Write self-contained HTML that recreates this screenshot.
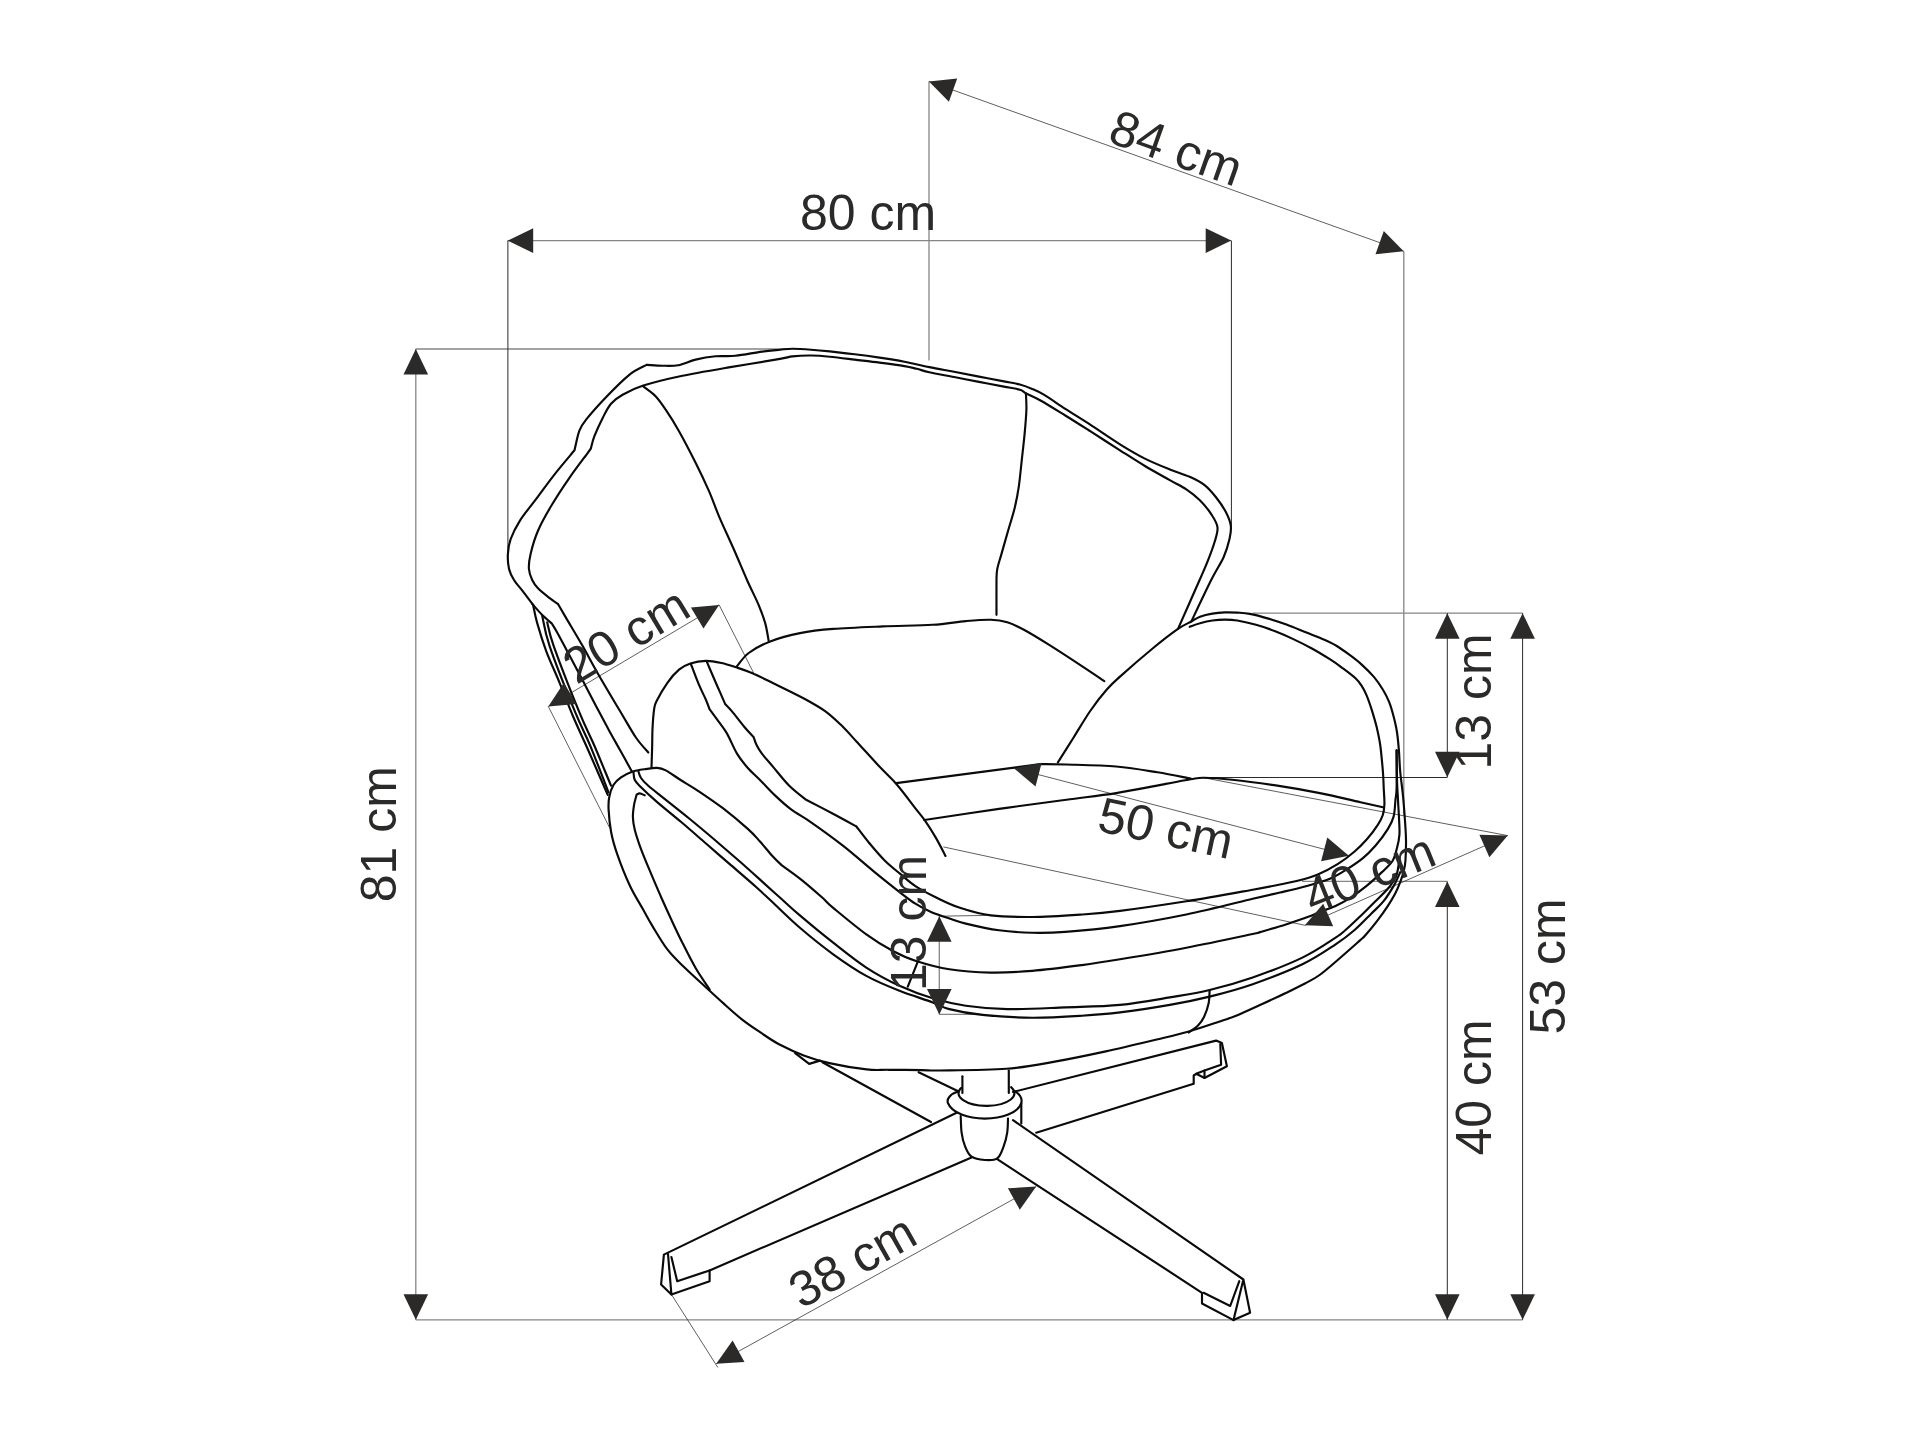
<!DOCTYPE html>
<html lang="en"><head><meta charset="utf-8"><title>Armchair dimensions</title>
<style>html,body{margin:0;padding:0;background:#fff}body{width:1930px;height:1447px;overflow:hidden}svg{display:block}</style>
</head><body>
<svg width="1930" height="1447" viewBox="0 0 1930 1447">
<rect width="1930" height="1447" fill="#fff"/>
<g fill="none" stroke="#858585" stroke-width="1.3">
<path d="M929.0,81.5 L929.0,360.5"/>
<path d="M1403.8,251.2 L1403.8,815.0"/>
<path d="M507.7,240.6 L1231.2,240.6"/>
<path d="M415.8,349.0 L415.8,1319.8"/>
<path d="M415.8,349.0 L788.0,349.0"/>
<path d="M415.8,1319.8 L1522.6,1319.8"/>
<path d="M939.3,916.2 L939.3,1014.4"/>
<path d="M939.3,1014.4 L982.4,1014.4"/>
<path d="M1252.7,613.2 L1522.6,613.2"/>
<path d="M1302.0,881.3 L1447.3,881.3"/>
</g>
<g fill="none" stroke="#2a2a2a" stroke-width="1.0">
<path d="M507.9,240.6 L507.9,554.0"/>
<path d="M1231.4,240.6 L1231.4,525.7"/>
<path d="M1447.3,613.2 L1447.3,777.3"/>
<path d="M1202.9,777.5 L1447.3,777.5"/>
<path d="M1447.3,881.5 L1447.3,1319.8"/>
<path d="M1522.6,613.2 L1522.6,1319.8"/>
</g>
<g fill="none" stroke="#2a2a2a" stroke-width="0.75">
<path d="M929.0,81.5 L1403.7,251.2"/>
<path d="M548.3,706.4 L719.1,604.9"/>
<path d="M548.3,706.4 L609.9,828.3"/>
<path d="M719.1,604.9 L753.6,672.9"/>
<path d="M939.3,916.2 L987.4,915.4"/>
<path d="M1013.9,768.2 L1348.9,855.7"/>
<path d="M1304.9,925.3 L1507.7,835.6"/>
<path d="M943.4,846.9 L1304.9,925.3"/>
<path d="M1204.0,777.8 L1507.7,835.6"/>
<path d="M716.2,1363.7 L1036.2,1186.6"/>
<path d="M671.4,1294.4 L717.8,1367.4"/>
</g>
<g fill="none" stroke="#0a0a0a" stroke-width="2.15" stroke-linecap="round" stroke-linejoin="round">
<path d="M607.7,794.8 C606.3,791.6 602.7,783.3 599.4,775.7 C596.1,768.1 592.2,759.2 587.8,749.2 C583.4,739.2 577.6,727.1 572.9,716.0 C568.2,704.9 564.0,693.6 559.6,682.8 C555.2,672.0 550.0,661.2 546.3,651.3 C542.6,641.3 539.4,630.8 537.2,623.1 C535.0,615.4 533.8,607.9 533.1,604.9 M533.1,604.9 C531.4,602.7 526.3,595.8 523.1,591.6 C519.9,587.5 516.4,583.8 514.0,580.0 C511.6,576.2 510.0,573.1 509.0,568.8 C508.0,564.4 507.6,558.9 507.9,553.9 C508.2,548.9 508.7,544.5 510.7,539.0 C512.7,533.5 515.8,527.1 519.8,520.8 C523.8,514.4 528.9,508.6 534.7,500.9 C540.5,493.1 548.0,482.7 554.6,474.3 C561.2,465.9 571.2,454.3 574.5,450.3 M574.5,450.3 C574.8,449.1 575.4,446.1 576.2,442.8 C577.0,439.5 577.9,434.3 579.5,430.4 C581.1,426.5 581.7,425.1 586.1,419.6 C590.5,414.1 598.8,404.7 606.0,397.2 C613.2,389.7 622.5,380.2 629.3,374.8 C636.1,369.4 643.8,366.5 646.7,364.9 M646.7,364.9 C649.3,365.0 657.1,365.6 662.4,365.7 C667.6,365.8 672.7,366.2 678.2,365.2 C683.7,364.2 689.4,361.1 695.6,359.6 C701.8,358.1 708.9,356.9 715.5,356.3 C722.1,355.7 727.7,356.6 735.4,355.8 C743.1,355.0 754.5,352.6 761.9,351.6 C769.3,350.6 774.9,350.2 780.0,349.7 C785.1,349.2 787.2,348.7 792.4,348.7 C797.6,348.7 804.9,349.2 811.1,349.7 C817.3,350.1 822.5,350.6 829.8,351.4 C837.0,352.2 846.3,353.3 854.6,354.3 C862.9,355.3 871.2,356.4 879.5,357.6 C887.8,358.8 896.1,360.1 904.4,361.7 C912.7,363.3 921.0,365.4 929.3,367.1 C937.6,368.8 945.8,370.2 954.1,371.8 C962.4,373.4 970.7,375.0 979.0,376.6 C987.3,378.2 997.1,380.1 1003.9,381.4 C1010.7,382.7 1015.2,383.2 1019.9,384.5 C1024.6,385.8 1028.2,387.2 1032.2,388.9 C1036.2,390.6 1038.3,391.4 1043.8,394.7 C1049.3,398.0 1057.6,403.8 1065.3,408.8 C1073.0,413.8 1081.1,418.7 1090.2,424.6 C1099.3,430.5 1110.9,438.6 1120.0,444.3 C1129.1,450.0 1136.6,454.4 1144.9,458.6 C1153.2,462.8 1162.3,466.4 1169.8,469.4 C1177.3,472.4 1183.9,474.2 1189.7,476.8 C1195.5,479.4 1200.2,481.7 1204.6,485.1 C1209.0,488.6 1212.6,492.9 1216.2,497.5 C1219.8,502.1 1223.7,507.8 1226.1,512.5 C1228.5,517.2 1230.2,521.3 1230.8,525.7 C1231.4,530.1 1230.7,533.8 1229.5,539.0 C1228.3,544.2 1226.6,550.4 1223.6,557.2 C1220.5,564.0 1216.6,569.3 1211.2,580.0 C1205.8,590.7 1194.6,614.6 1191.3,621.5"/>
<path d="M558.0,604.0 C556.6,603.0 553.0,600.8 549.7,598.2 C546.4,595.6 540.9,591.3 538.0,588.3 C535.1,585.3 533.7,583.2 532.2,580.0 C530.7,576.8 529.2,573.1 528.9,568.8 C528.6,564.4 529.1,560.2 530.6,553.9 C532.1,547.5 534.5,538.7 538.0,530.7 C541.5,522.7 546.0,514.6 551.3,505.8 C556.6,496.9 563.5,486.4 569.6,477.6 C575.7,468.8 584.3,457.6 587.8,452.8 C591.3,448.0 590.3,449.3 590.8,448.6 M590.8,448.6 C591.4,446.5 592.4,441.3 594.4,436.2 C596.4,431.1 599.9,423.3 602.7,417.9 C605.5,412.5 607.7,407.7 611.0,403.8 C614.3,399.9 617.2,397.7 622.6,394.7 C628.0,391.7 633.9,388.6 643.3,385.6 C652.7,382.6 664.8,379.5 679.0,376.5 C693.2,373.5 712.0,370.3 728.8,367.4 C745.6,364.5 769.4,360.7 780.0,358.9 C790.6,357.1 787.2,357.0 792.4,356.4 C797.6,355.8 804.9,355.4 811.1,355.5 C817.3,355.6 822.5,356.0 829.8,356.7 C837.0,357.4 846.3,358.6 854.6,359.6 C862.9,360.6 871.2,361.5 879.5,362.6 C887.8,363.7 898.2,365.1 904.4,366.1 C910.6,367.1 912.6,367.8 916.8,368.8 C920.9,369.8 923.1,370.9 929.3,372.3 C935.5,373.7 945.8,375.4 954.1,377.0 C962.4,378.6 970.7,380.3 979.0,381.9 C987.3,383.5 997.1,385.3 1003.9,386.6 C1010.7,387.9 1016.3,388.6 1019.9,389.7 C1023.5,390.8 1022.1,391.3 1025.5,393.1 C1028.9,394.9 1033.9,396.8 1040.5,400.5 C1047.1,404.2 1057.0,410.4 1065.3,415.5 C1073.6,420.6 1081.1,425.4 1090.2,431.2 C1099.3,437.0 1110.9,444.5 1120.0,450.3 C1129.1,456.1 1136.6,461.0 1144.9,466.0 C1153.2,471.0 1162.9,476.2 1169.8,480.1 C1176.7,484.0 1181.3,486.0 1186.3,489.3 C1191.3,492.6 1195.4,495.9 1199.6,500.0 C1203.8,504.1 1208.2,509.5 1211.2,514.1 C1214.2,518.7 1217.0,522.7 1217.5,527.4 C1218.0,532.1 1216.1,536.8 1214.5,542.3 C1212.9,547.8 1210.4,554.3 1207.9,560.6 C1205.4,566.9 1204.6,568.6 1199.6,580.0 C1194.6,591.4 1181.6,620.8 1178.0,628.9"/>
<path d="M1057.9,762.4 C1060.5,758.2 1068.2,746.1 1073.6,737.5 C1079.0,728.9 1084.7,719.0 1090.2,711.0 C1095.7,703.0 1101.8,695.2 1106.8,689.5 C1111.8,683.8 1112.3,683.5 1120.0,676.6 C1127.7,669.7 1143.5,656.0 1153.2,648.0 C1162.9,640.0 1171.7,633.3 1178.0,628.9 C1184.3,624.5 1187.6,623.5 1191.3,621.5 C1195.0,619.5 1196.5,618.0 1200.0,616.7 C1203.5,615.4 1208.2,614.3 1212.4,613.6 C1216.6,612.9 1220.8,612.6 1224.9,612.4 C1229.1,612.2 1233.2,612.4 1237.3,612.6 C1241.4,612.9 1244.6,612.9 1249.8,613.9 C1255.0,614.9 1262.2,616.8 1268.4,618.6 C1274.6,620.4 1280.9,622.5 1287.1,624.8 C1293.3,627.1 1299.5,629.8 1305.7,632.3 C1311.9,634.8 1319.2,637.5 1324.4,639.8 C1329.6,642.1 1332.7,643.5 1336.8,646.0 C1340.9,648.5 1345.1,651.6 1349.3,654.7 C1353.5,657.8 1357.6,660.9 1361.7,664.6 C1365.8,668.3 1370.6,673.0 1374.1,677.1 C1377.6,681.2 1380.3,685.4 1382.8,689.5 C1385.3,693.6 1387.2,697.1 1389.1,701.9 C1391.0,706.7 1392.7,712.9 1394.0,718.1 C1395.3,723.3 1396.3,727.4 1397.1,733.0 C1397.9,738.6 1398.5,745.3 1399.0,751.7 C1399.5,758.1 1399.5,764.1 1400.2,771.5 C1400.9,778.9 1402.2,787.8 1403.0,796.0 C1403.8,804.2 1404.5,813.7 1405.0,821.0 C1405.5,828.3 1405.9,833.5 1406.0,840.0 C1406.1,846.5 1405.8,854.9 1405.5,860.0 C1405.2,865.1 1404.8,866.8 1403.9,870.4 C1403.0,874.0 1401.8,877.9 1400.3,881.8 C1398.8,885.7 1397.2,889.6 1395.1,893.7 C1392.9,897.8 1390.4,902.0 1387.4,906.6 C1384.4,911.2 1380.6,916.4 1377.0,921.1 C1373.4,925.8 1368.4,931.8 1365.6,935.0 C1362.8,938.2 1364.3,936.6 1360.0,940.4 C1355.7,944.2 1346.7,952.2 1340.0,958.0 C1333.3,963.8 1325.4,970.8 1319.6,975.0 C1313.8,979.2 1310.6,980.5 1305.0,983.5 C1299.4,986.5 1293.3,989.4 1285.8,993.0 C1278.3,996.6 1268.2,1001.2 1259.9,1005.0 C1251.6,1008.8 1242.4,1013.1 1236.1,1015.7 C1229.8,1018.3 1229.8,1018.1 1221.9,1020.7 C1214.0,1023.3 1199.8,1028.3 1188.8,1031.5 C1177.8,1034.7 1169.4,1036.5 1155.6,1039.8 C1141.8,1043.1 1122.4,1047.8 1105.8,1051.4 C1089.2,1055.0 1072.7,1058.5 1056.1,1061.4 C1039.5,1064.3 1025.6,1067.3 1006.3,1068.8 C986.9,1070.3 954.1,1070.3 940.0,1070.5 C925.9,1070.7 930.4,1070.2 921.9,1070.1 C913.4,1070.0 898.0,1069.9 888.8,1069.8 C879.6,1069.7 876.5,1070.5 866.6,1069.4 C856.7,1068.3 839.7,1065.4 829.3,1063.1 C818.9,1060.8 812.7,1058.8 804.4,1055.7 C796.1,1052.6 786.8,1048.3 779.5,1044.5 C772.2,1040.7 767.0,1036.9 760.8,1032.7 C754.6,1028.5 748.4,1024.5 742.2,1019.6 C736.0,1014.7 729.1,1008.4 723.5,1003.4 C717.9,998.4 715.2,995.9 708.6,989.8 C702.0,983.7 690.9,973.7 684.0,967.0 C677.1,960.3 672.6,956.2 667.4,949.4 C662.1,942.6 656.5,932.7 652.5,926.1 C648.5,919.5 647.2,916.8 643.4,910.0 C639.6,903.2 634.1,894.8 629.8,885.5 C625.4,876.2 620.4,863.3 617.3,854.4 C614.2,845.5 612.5,839.5 611.1,832.0 C609.7,824.5 608.9,815.4 608.6,809.6 C608.3,803.8 608.4,801.4 609.2,797.2 C610.0,793.1 611.6,788.0 613.6,784.7 C615.6,781.4 617.9,779.5 621.0,777.3 C624.1,775.1 628.2,773.1 632.2,771.7 C636.2,770.4 640.6,769.8 644.7,769.2 C648.9,768.6 653.6,767.7 657.1,767.9 C660.6,768.1 661.9,768.4 665.8,770.4 C669.7,772.4 675.2,776.6 680.6,780.0 C686.0,783.4 691.0,786.1 698.0,790.8 C705.0,795.5 714.6,801.9 722.9,808.2 C731.2,814.6 741.6,823.4 747.8,828.9 C754.0,834.4 755.9,837.0 760.0,841.5 C764.1,846.0 768.8,852.0 772.4,856.0 C776.0,860.0 780.2,863.8 781.8,865.3 M781.8,865.3 C785.1,867.7 794.8,874.4 801.5,879.8 C808.2,885.2 816.9,892.8 822.2,897.5 C827.5,902.2 825.9,901.8 833.2,907.9 C840.6,914.0 856.3,927.2 866.3,934.4 C876.2,941.6 884.6,946.6 892.9,951.0 C901.2,955.4 906.7,958.0 916.1,961.0 C925.5,964.0 936.9,967.4 949.3,969.3 C961.7,971.2 976.9,972.3 990.7,972.6 C1004.5,972.9 1017.0,972.1 1032.2,970.9 C1047.4,969.6 1067.3,967.0 1081.9,965.1 C1096.5,963.2 1102.6,962.2 1120.0,959.3 C1137.4,956.4 1164.2,951.9 1186.3,947.7 C1208.4,943.5 1240.4,936.6 1252.7,934.0 C1265.0,931.4 1254.5,933.7 1260.0,932.1 C1265.5,930.5 1277.3,927.2 1285.9,924.4 C1294.5,921.6 1306.1,917.6 1311.8,915.5 C1317.5,913.4 1316.0,913.4 1320.0,911.8 C1324.0,910.2 1330.3,908.4 1335.5,906.0 C1340.7,903.6 1345.9,900.6 1351.1,897.3 C1356.3,893.9 1361.4,890.1 1366.6,885.9 C1371.8,881.7 1377.9,876.0 1382.2,871.9 C1386.5,867.8 1390.0,865.0 1392.5,861.0 C1395.0,857.0 1395.8,852.4 1397.0,848.0 C1398.2,843.6 1399.1,839.6 1399.4,834.9 C1399.8,830.2 1399.3,825.8 1399.1,820.0 C1398.9,814.2 1398.3,806.7 1398.0,800.0 C1397.7,793.3 1397.2,788.3 1397.0,780.0 C1396.8,771.7 1396.7,755.2 1396.6,750.3"/>
<path d="M643.3,386.4 C645.4,388.1 652.1,392.5 655.8,396.4 C659.5,400.3 661.8,403.9 665.7,409.7 C669.6,415.5 674.0,422.4 679.0,431.2 C684.0,440.0 690.6,452.8 695.6,462.7 C700.6,472.6 705.0,482.0 708.9,490.9 C712.8,499.8 714.7,506.1 718.8,515.8 C722.9,525.5 729.0,538.3 733.7,549.0 C738.4,559.7 742.9,570.7 747.0,580.0 C751.1,589.3 755.6,597.7 758.6,604.9 C761.6,612.1 763.5,617.2 765.2,623.1 C766.9,629.0 768.0,637.6 768.6,640.5"/>
<path d="M1025.9,393.4 C1026.0,396.1 1026.6,403.1 1026.4,409.7 C1026.2,416.3 1025.4,425.2 1024.7,432.9 C1024.0,440.6 1023.2,447.3 1022.2,456.1 C1021.2,464.9 1020.1,477.3 1018.9,485.9 C1017.7,494.5 1016.6,500.0 1014.8,507.5 C1013.0,515.0 1010.3,523.0 1008.1,530.7 C1005.9,538.4 1003.3,547.5 1001.5,553.9 C999.7,560.3 998.1,564.5 997.3,568.9 C996.5,573.2 996.6,572.4 996.5,580.0 C996.4,587.6 996.5,609.0 996.5,614.8"/>
<path d="M737.0,666.2 C739.0,664.0 743.2,657.1 748.7,653.0 C754.2,648.9 761.7,644.7 770.2,641.4 C778.8,638.1 789.5,635.2 800.0,633.1 C810.5,631.0 819.4,630.0 833.2,628.9 C847.0,627.8 866.3,627.1 882.9,626.4 C899.5,625.7 918.9,625.7 932.7,624.8 C946.5,623.9 956.1,621.9 965.8,621.1 C975.5,620.3 983.8,619.6 990.7,619.8 C997.6,620.0 1001.8,620.6 1007.3,622.3 C1012.8,624.0 1017.0,626.1 1023.9,629.8 C1030.8,633.5 1039.1,638.6 1048.8,644.7 C1058.5,650.8 1072.7,660.1 1081.9,666.2 C1091.2,672.3 1100.6,678.7 1104.3,681.2"/>
<path d="M651.5,767.3 C651.6,764.2 651.9,755.0 652.1,748.7 C652.3,742.4 652.2,735.8 652.5,729.3 C652.8,722.8 653.4,714.1 654.1,709.4 C654.8,704.7 654.4,705.5 656.6,701.1 C658.8,696.7 663.7,688.0 667.4,682.8 C671.1,677.5 675.2,672.8 679.0,669.6 C682.8,666.4 685.9,665.0 690.4,663.5 C694.9,662.0 700.7,661.0 705.9,660.9 C711.1,660.8 716.3,661.9 721.5,663.0 C726.7,664.1 731.8,665.9 737.0,667.6 C742.2,669.3 746.5,670.7 752.5,673.3 C758.5,675.9 764.6,679.0 773.3,683.2 C781.9,687.4 795.8,694.1 804.4,698.7 C813.0,703.4 819.1,706.8 825.1,711.1 C831.1,715.4 835.4,719.6 840.6,724.6 C845.8,729.6 849.7,734.1 856.2,741.2 C862.8,748.3 873.1,759.9 879.9,767.1 C886.7,774.3 890.9,777.6 896.8,784.5 C902.7,791.4 910.6,802.1 915.4,808.3 C920.2,814.5 922.3,816.8 925.8,821.8 C929.3,826.8 932.9,832.7 936.2,838.4 C939.5,844.1 944.0,853.1 945.5,856.0"/>
<path d="M690.9,664.0 C692.2,667.4 696.2,678.2 698.7,684.2 C701.2,690.2 704.1,695.6 705.9,699.7 C707.7,703.9 708.9,707.5 709.5,709.1 M709.5,709.1 C710.6,710.6 713.4,714.4 716.3,718.4 C719.1,722.4 723.1,727.0 726.6,732.9 C730.1,738.8 733.5,747.8 737.0,753.6 C740.5,759.4 743.6,763.1 747.4,767.5 C751.2,771.9 755.3,775.3 760.0,780.0 C764.7,784.7 770.3,791.0 775.5,795.9 C780.7,800.8 785.1,804.9 791.1,809.4 C797.1,813.9 803.2,816.8 811.8,822.8 C820.4,828.8 832.5,837.5 842.9,845.6 C853.3,853.7 864.5,863.8 874.0,871.6 C883.5,879.4 893.0,886.9 899.9,892.3 C906.8,897.6 910.2,900.4 915.4,903.7 C920.6,907.0 925.0,909.4 931.0,912.0 C937.0,914.6 945.9,917.3 951.7,919.2 C957.5,921.1 957.9,921.8 965.8,923.6 C973.7,925.5 987.9,928.8 999.0,930.3 C1010.1,931.8 1021.2,932.5 1032.2,932.8 C1043.2,933.1 1050.7,933.0 1065.3,931.9 C1079.9,930.8 1099.8,929.0 1120.0,926.1 C1140.2,923.2 1164.2,919.0 1186.3,914.5 C1208.4,910.0 1237.1,902.5 1252.7,898.8 C1268.3,895.1 1271.3,894.5 1280.0,892.5 C1288.7,890.5 1296.6,888.8 1304.9,886.5 C1313.2,884.2 1322.9,881.6 1329.8,878.8 C1336.7,876.0 1340.8,873.2 1346.3,869.7 C1351.8,866.2 1358.1,862.1 1362.9,858.1 C1367.8,854.1 1371.2,850.5 1375.4,845.7 C1379.6,840.9 1384.8,834.0 1387.8,829.1 C1390.8,824.2 1392.3,821.4 1393.6,816.6 C1394.9,811.8 1394.9,805.3 1395.4,800.5 C1395.9,795.7 1396.4,796.4 1396.6,788.0 C1396.8,779.6 1396.6,756.6 1396.6,750.3"/>
<path d="M706.9,661.9 C708.1,664.8 711.8,673.4 714.2,679.0 C716.6,684.6 719.7,691.5 721.5,695.6 C723.3,699.8 724.5,702.5 725.1,703.9 M725.1,703.9 C726.2,705.1 728.6,707.3 731.8,711.1 C735.0,714.9 740.6,722.4 744.2,726.7 C747.8,731.0 752.0,735.3 753.6,737.0 M753.6,737.0 C754.1,738.4 755.3,742.5 756.7,745.3 C758.1,748.1 759.1,750.0 761.9,753.6 C764.7,757.2 768.8,761.8 773.3,767.1 C777.8,772.4 783.6,780.1 789.0,785.5 C794.4,790.9 802.8,797.2 805.6,799.5 M805.6,799.5 C810.1,801.8 824.0,809.0 832.5,813.5 C841.0,818.0 852.4,824.3 856.4,826.5 M856.4,826.5 C858.5,829.2 864.1,836.9 868.8,842.5 C873.5,848.1 879.2,855.0 884.4,860.2 C889.6,865.4 894.7,869.3 899.9,873.6 C905.1,877.9 909.3,882.1 915.4,886.1 C921.5,890.1 928.8,893.9 936.2,897.5 C943.6,901.1 950.8,904.8 959.9,907.8 C969.0,910.8 978.7,913.9 990.7,915.4 C1002.8,916.9 1017.0,917.1 1032.2,917.0 C1047.4,916.9 1067.3,915.5 1081.9,914.5 C1096.5,913.5 1102.6,913.1 1120.0,910.9 C1137.4,908.7 1164.2,904.8 1186.3,901.3 C1208.4,897.8 1237.1,892.5 1252.7,889.7 C1268.3,886.9 1272.7,886.0 1280.0,884.5 C1287.3,883.0 1290.4,882.6 1296.6,881.0 C1302.8,879.4 1310.4,877.6 1317.3,874.7 C1324.2,871.9 1331.8,867.8 1338.0,863.9 C1344.2,860.0 1349.8,855.6 1354.6,851.5 C1359.4,847.4 1363.2,843.4 1367.1,839.0 C1371.0,834.6 1375.2,828.9 1377.8,824.9 C1380.4,820.9 1381.7,818.4 1382.8,815.0 C1383.9,811.6 1384.2,809.1 1384.4,804.6 C1384.6,800.1 1384.0,793.5 1383.7,788.0 C1383.5,782.5 1383.5,778.6 1382.9,771.5 C1382.3,764.4 1381.3,753.0 1380.3,745.5 C1379.2,738.0 1378.0,732.8 1376.6,726.8 C1375.1,720.8 1373.2,714.6 1371.6,709.4 C1369.9,704.2 1368.3,699.6 1366.7,695.7 C1365.1,691.8 1363.6,688.7 1361.7,685.8 C1359.8,682.9 1358.6,681.2 1355.5,678.3 C1352.4,675.4 1347.2,671.5 1343.0,668.4 C1338.8,665.3 1335.8,663.0 1330.6,659.7 C1325.4,656.4 1318.1,651.9 1311.9,648.5 C1305.7,645.1 1299.5,642.0 1293.3,639.1 C1287.1,636.2 1280.8,633.4 1274.6,631.0 C1268.4,628.6 1262.2,626.5 1256.0,624.8 C1249.8,623.0 1242.5,621.4 1237.3,620.5 C1232.1,619.6 1229.1,619.6 1224.9,619.6 C1220.8,619.6 1216.6,619.9 1212.4,620.5 C1208.2,621.1 1203.8,622.2 1200.0,623.3 C1196.2,624.3 1191.4,626.2 1189.7,626.8"/>
<path d="M638.5,771.7 C638.9,772.8 639.4,775.6 641.0,778.0 C642.6,780.4 644.3,782.3 648.3,785.8 C652.3,789.3 658.0,793.6 664.9,799.1 C671.8,804.6 681.5,812.2 689.8,819.0 C698.1,825.8 706.3,832.7 714.6,839.7 C722.9,846.8 731.2,854.0 739.5,861.3 C747.8,868.6 757.5,877.4 764.4,883.6 C771.3,889.8 775.1,893.2 781.0,898.5 C786.9,903.8 791.2,908.0 799.9,915.4 C808.6,922.8 822.1,934.0 833.2,942.7 C844.3,951.4 855.2,960.4 866.3,967.6 C877.3,974.8 888.4,980.7 899.5,985.8 C910.6,990.9 921.7,995.0 932.7,998.3 C943.8,1001.6 953.4,1003.9 965.8,1005.7 C978.2,1007.5 990.7,1008.8 1007.3,1009.1 C1023.9,1009.4 1046.5,1008.1 1065.3,1007.4 C1084.1,1006.7 1102.6,1006.6 1120.0,1004.9 C1137.4,1003.2 1154.9,999.9 1169.8,997.4 C1184.7,994.9 1195.8,993.3 1209.6,990.0 C1223.4,986.7 1237.2,982.9 1252.7,977.5 C1268.2,972.1 1288.6,964.2 1302.4,957.6 C1316.2,951.0 1328.4,942.3 1335.6,937.7 C1342.8,933.1 1341.0,934.0 1345.5,930.0 C1350.0,926.0 1357.9,918.5 1362.9,913.7 C1367.9,908.9 1371.2,905.4 1375.4,901.2 C1379.6,897.1 1384.3,892.9 1387.8,888.8 C1391.2,884.6 1394.2,880.8 1396.1,876.3 C1398.0,871.8 1398.5,864.4 1399.0,862.0"/>
<path d="M633.5,772.3 C633.7,773.5 633.6,777.5 634.7,779.8 C635.8,782.1 636.4,782.6 640.0,786.2 C643.6,789.8 649.7,795.6 656.6,801.6 C663.5,807.6 673.2,815.3 681.5,822.3 C689.8,829.3 698.0,836.6 706.3,843.8 C714.6,851.0 722.9,858.2 731.2,865.4 C739.5,872.6 749.6,881.2 756.1,887.0 C762.6,892.8 762.9,893.2 770.2,900.0 C777.5,906.8 789.4,918.8 799.9,927.8 C810.4,936.8 822.1,946.3 833.2,954.3 C844.3,962.3 855.2,969.8 866.3,975.9 C877.3,982.0 888.4,986.4 899.5,990.8 C910.6,995.2 924.4,999.3 932.7,1002.4 C941.0,1005.5 941.0,1007.0 949.3,1009.1 C957.6,1011.2 968.6,1013.5 982.4,1014.9 C996.2,1016.3 1015.6,1017.6 1032.2,1017.7 C1048.8,1017.8 1067.3,1016.6 1081.9,1015.7 C1096.5,1014.8 1105.3,1014.2 1120.0,1012.4 C1134.7,1010.6 1154.9,1007.5 1169.8,1004.9 C1184.7,1002.3 1195.8,1000.0 1209.6,996.6 C1223.4,993.2 1237.2,989.6 1252.7,984.2 C1268.2,978.8 1288.6,970.9 1302.4,964.3 C1316.2,957.7 1326.9,950.1 1335.6,944.4 C1344.3,938.7 1348.7,935.1 1354.6,930.0 C1360.5,924.9 1366.4,918.5 1371.2,913.7 C1376.0,908.9 1379.7,906.1 1383.6,901.2 C1387.5,896.4 1391.6,889.4 1394.4,884.6 C1397.2,879.8 1399.2,874.3 1400.2,872.2"/>
<path d="M644.7,795.3 C643.9,795.0 641.1,793.5 639.7,793.4 C638.4,793.3 637.1,794.5 636.6,794.7 M636.6,794.7 C636.2,796.4 634.7,800.9 634.1,804.6 C633.5,808.3 632.8,813.0 632.9,817.1 C633.0,821.2 633.5,824.6 634.7,829.5 C635.9,834.4 637.5,839.3 640.0,846.3 C642.5,853.2 646.4,862.6 650.0,871.2 C653.6,879.8 657.9,889.9 661.5,898.0 C665.1,906.1 668.1,912.7 671.5,920.0 C674.9,927.3 678.0,934.0 682.0,942.0 C686.0,950.0 691.0,960.1 695.6,968.0 C700.2,975.9 707.4,985.9 709.7,989.5"/>
<path d="M542.2,615.7 C543.5,620.8 544.2,630.1 549.7,646.3 C555.2,662.5 568.6,696.1 575.4,712.7 C582.2,729.3 584.8,732.5 590.3,745.8 C595.8,759.1 605.5,784.5 608.5,792.3"/>
<path d="M547.2,622.3 C548.3,626.3 548.4,631.2 553.8,646.3 C559.2,661.4 572.7,696.1 579.5,712.7 C586.3,729.3 589.1,733.6 594.4,745.8 C599.6,757.9 608.2,779.0 611.0,785.6"/>
<path d="M532.1,603.8 C533.7,605.5 538.2,610.9 541.5,614.2 C544.8,617.5 550.1,622.0 551.8,623.5 M551.8,623.5 C552.8,625.2 555.1,628.7 558.0,633.9 C560.9,639.1 564.9,646.9 569.0,654.6 C573.1,662.3 578.0,671.4 582.5,680.0 C587.0,688.6 591.6,697.7 596.0,706.0 C600.4,714.3 604.8,722.7 608.8,730.0 C612.8,737.3 616.2,743.2 620.0,750.0 C623.8,756.8 629.7,767.5 631.6,771.0"/>
<path d="M558.0,604.0 C559.4,606.4 562.1,611.1 566.2,618.1 C570.3,625.1 577.3,636.6 582.8,646.3 C588.3,656.0 593.0,665.1 599.4,676.2 C605.8,687.3 614.9,702.5 621.0,712.7 C627.1,722.9 631.4,730.9 635.9,737.5 C640.4,744.1 646.2,750.0 648.3,752.5"/>
<path d="M896.2,783.1 L1040.5,764.1 M1040.5,764.1 C1044.8,764.2 1053.7,764.1 1066.3,764.5 C1078.9,764.9 1100.9,765.2 1116.1,766.5 C1131.3,767.8 1145.1,770.3 1157.5,772.3 C1169.9,774.3 1185.2,777.5 1190.7,778.5"/>
<path d="M924.4,820.0 C936.8,818.1 975.4,812.3 999.0,808.9 C1022.6,805.5 1046.8,802.3 1066.3,799.7 C1085.8,797.1 1099.5,795.7 1116.1,793.1 C1132.7,790.5 1153.4,786.2 1165.8,783.9 C1178.2,781.6 1184.3,780.3 1190.7,779.3 C1197.1,778.3 1197.1,777.7 1204.0,777.8 C1210.9,777.9 1219.2,778.4 1232.2,779.8 C1245.2,781.2 1267.3,784.2 1281.9,786.4 C1296.5,788.6 1306.8,790.5 1319.9,793.1 C1333.0,795.7 1350.0,799.9 1360.5,802.2 C1371.0,804.6 1379.2,806.4 1382.9,807.2"/>
<path d="M1209.6,990.8 C1209.4,992.8 1209.6,998.6 1208.7,1003.0 C1207.8,1007.4 1205.8,1013.2 1204.0,1017.0 C1202.2,1020.8 1200.5,1022.9 1198.0,1025.5 C1195.5,1028.1 1190.3,1031.3 1188.8,1032.5"/>
<path d="M919.4,957.6 L907.8,986.7"/>
<path d="M960.7,1116.1 C960.9,1118.9 960.9,1127.7 961.6,1132.7 C962.3,1137.7 963.2,1141.9 964.9,1145.9 C966.5,1149.9 968.2,1154.4 971.5,1156.7 C974.8,1159.0 980.5,1159.7 984.8,1160.0 C989.1,1160.3 994.0,1160.8 997.2,1158.4 C1000.4,1156.1 1002.1,1150.2 1003.8,1145.9 C1005.5,1141.6 1006.5,1137.2 1007.2,1132.7 C1007.9,1128.2 1007.9,1120.9 1008.0,1118.6"/>
<path d="M962.4,1076.3 L962.4,1092.9"/>
<path d="M1008.8,1070.5 L1008.8,1092.9"/>
<path d="M1021.3,1103.0 L1021.3,1123.5"/>
<path d="M1013.0,1092.0 L1216.1,1040.6 L1221.9,1043.1 L1226.9,1066.3 L1204.5,1078.0 L1196.2,1073.8 L1193.7,1075.5 L1193.7,1083.7 L1036.2,1132.7"/>
<path d="M1220.3,1044.0 L1221.1,1064.7 L1204.5,1070.5 L1204.5,1078.0"/>
<path d="M1204.5,1070.5 L1196.2,1073.8"/>
<path d="M1013.0,1120.2 L1243.4,1279.5 L1250.1,1312.7 L1233.5,1320.1 L1243.4,1279.5"/>
<path d="M997.2,1159.2 L1202.0,1292.8 L1202.0,1303.5 L1233.5,1320.1"/>
<path d="M1239.3,1281.2 L1230.2,1306.0 L1203.6,1292.8"/>
<path d="M956.6,1112.8 L663.9,1254.6 L661.1,1284.5 L671.4,1294.4 L668.0,1254.0"/>
<path d="M971.5,1157.5 L709.6,1270.4 L709.6,1281.2 L671.4,1294.4"/>
<path d="M671.4,1257.1 L677.2,1281.2 L709.6,1270.4"/>
<path d="M822.4,1062.3 L931.0,1122.0"/>
<path d="M918.6,1072.2 L958.2,1091.2"/>
<path d="M795.1,1053.2 L809.2,1063.9 L819.9,1060.6"/>
<path d="M958.2,1091.5 C950,1094 946.5,1099 947.9,1103 C952,1113 968,1118.6 984.8,1118.6 C1002,1118.6 1018,1113 1021.3,1103 C1022.5,1098 1019,1093.5 1014,1090.8"/>
<path d="M961.1,1087.9 A28,12.6 0 1 0 1011.1,1087.2"/>
</g>
<g fill="#2b2a29">
<polygon points="929.0,81.5 957.2,78.5 948.9,101.7"/>
<polygon points="1403.7,251.2 1375.5,254.2 1383.8,231.0"/>
<polygon points="507.7,240.6 533.2,228.3 533.2,252.9"/>
<polygon points="1231.2,240.6 1205.7,252.9 1205.7,228.3"/>
<polygon points="415.8,349.0 428.1,374.5 403.5,374.5"/>
<polygon points="415.8,1319.8 403.5,1294.3 428.1,1294.3"/>
<polygon points="548.3,706.4 563.9,682.8 576.5,703.9"/>
<polygon points="719.1,604.9 703.5,628.5 690.9,607.4"/>
<polygon points="939.3,916.2 951.6,941.7 927.0,941.7"/>
<polygon points="939.3,1014.4 927.0,988.9 951.6,988.9"/>
<polygon points="1013.9,768.2 1041.7,762.7 1035.5,786.5"/>
<polygon points="1348.9,855.7 1321.1,861.2 1327.3,837.4"/>
<polygon points="1304.9,925.3 1323.2,903.7 1333.2,926.2"/>
<polygon points="1507.7,835.6 1489.4,857.2 1479.4,834.7"/>
<polygon points="1447.3,613.2 1459.6,638.7 1435.0,638.7"/>
<polygon points="1447.3,777.3 1435.0,751.8 1459.6,751.8"/>
<polygon points="1522.6,613.2 1534.9,638.7 1510.3,638.7"/>
<polygon points="1522.6,1319.8 1510.3,1294.3 1534.9,1294.3"/>
<polygon points="1447.3,881.5 1459.6,907.0 1435.0,907.0"/>
<polygon points="1447.3,1319.8 1435.0,1294.3 1459.6,1294.3"/>
<polygon points="716.2,1363.7 732.6,1340.6 744.5,1362.1"/>
<polygon points="1036.2,1186.6 1019.8,1209.7 1007.9,1188.2"/>
</g>
<g fill="#2b2a29" font-family="'Liberation Sans', sans-serif" font-size="50">
<text transform="translate(800.0 229.7) rotate(0.00)">80 cm</text>
<text transform="translate(1106.3 141.5) rotate(19.50)">84 cm</text>
<text transform="translate(395.9 902.3) rotate(-90.00)">81 cm</text>
<text transform="translate(576.5 685.0) rotate(-31.00)">20 cm</text>
<text transform="translate(926.4 991.0) rotate(-90.00)">13 cm</text>
<text transform="translate(1095.8 830.8) rotate(12.00)">50 cm</text>
<text transform="translate(1312.7 914.8) rotate(-22.00)">40 cm</text>
<text transform="translate(1491.1 769.5) rotate(-90.00)">13 cm</text>
<text transform="translate(1564.6 1034.5) rotate(-90.00)">53 cm</text>
<text transform="translate(1491.1 1155.5) rotate(-90.00)">40 cm</text>
<text transform="translate(801.5 1309.5) rotate(-29.50)">38 cm</text>
</g>
</svg>
</body></html>
